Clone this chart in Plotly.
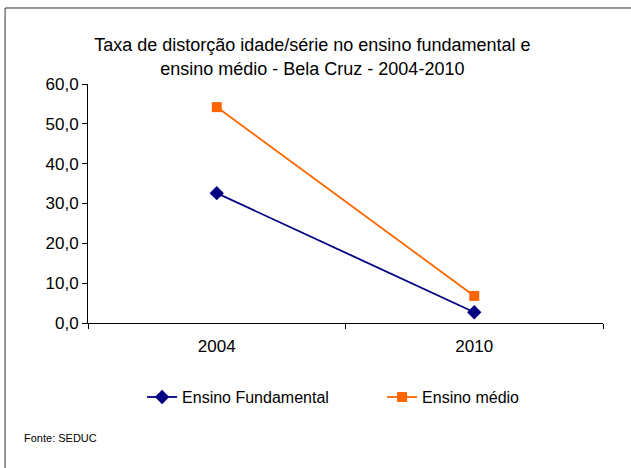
import plotly.graph_objects as go

# Taxa de distorção idade/série - Bela Cruz
anos = ["2004", "2010"]
fundamental = [32.6, 2.7]
medio = [54.2, 6.8]
y_ticks = [0, 10, 20, 30, 40, 50, 60]

fig = go.Figure()
fig.add_trace(
    go.Scatter(
        name="Ensino Fundamental",
        x=anos,
        y=fundamental,
        mode="lines+markers",
        line=dict(color="#000080", width=1.8),
        marker=dict(symbol="diamond", size=11, color="#000080"),
    )
)
fig.add_trace(
    go.Scatter(
        name="Ensino médio",
        x=anos,
        y=medio,
        mode="lines+markers",
        line=dict(color="#FF6600", width=1.8),
        marker=dict(symbol="square", size=10, color="#FF6600"),
    )
)

# moldura do gráfico (lado esquerdo e topo)
fig.add_shape(
    type="rect", xref="paper", yref="paper",
    x0=-0.161, x1=1.2, y0=-0.7, y1=1.318,
    line=dict(color="#333333", width=1),
)
fig.add_annotation(
    text="Fonte: SEDUC", xref="paper", yref="paper",
    x=-0.128, y=-0.48, xanchor="left", yanchor="middle",
    showarrow=False, font=dict(size=11, color="black"),
)

fig.update_layout(
    width=631,
    height=468,
    margin=dict(l=88, r=28, t=84, b=145, autoexpand=False),
    paper_bgcolor="white",
    plot_bgcolor="white",
    separators=",.",
    font=dict(family="Liberation Sans, Arial, sans-serif", color="black"),
    title=dict(
        text="Taxa de distorção idade/série no ensino fundamental e<br>ensino médio - Bela Cruz - 2004-2010",
        x=0.495, xanchor="center", y=0.89, yanchor="middle",
        font=dict(size=18),
    ),
    xaxis=dict(
        type="category", range=[-0.5, 1.5],
        showline=True, linecolor="black", linewidth=1,
        ticks="outside", tickson="boundaries", ticklen=5, tickcolor="black",
        showgrid=False, tickfont=dict(size=17), ticklabelstandoff=8,
    ),
    yaxis=dict(
        range=[0, 60], tickvals=y_ticks, tickformat=".1f",
        showline=True, linecolor="black", linewidth=1,
        ticks="outside", ticklen=5, tickcolor="black",
        showgrid=False, zeroline=False, tickfont=dict(size=17),
    ),
    legend=dict(
        orientation="h", x=0.105, y=-0.31, xanchor="left", yanchor="middle",
        entrywidth=195, entrywidthmode="pixels",
        font=dict(size=16),
    ),
    showlegend=True,
)

fig.write_html(
    "out.html",
    config={"displayModeBar": False},
    post_script="document.body.style.margin='0';",
)
